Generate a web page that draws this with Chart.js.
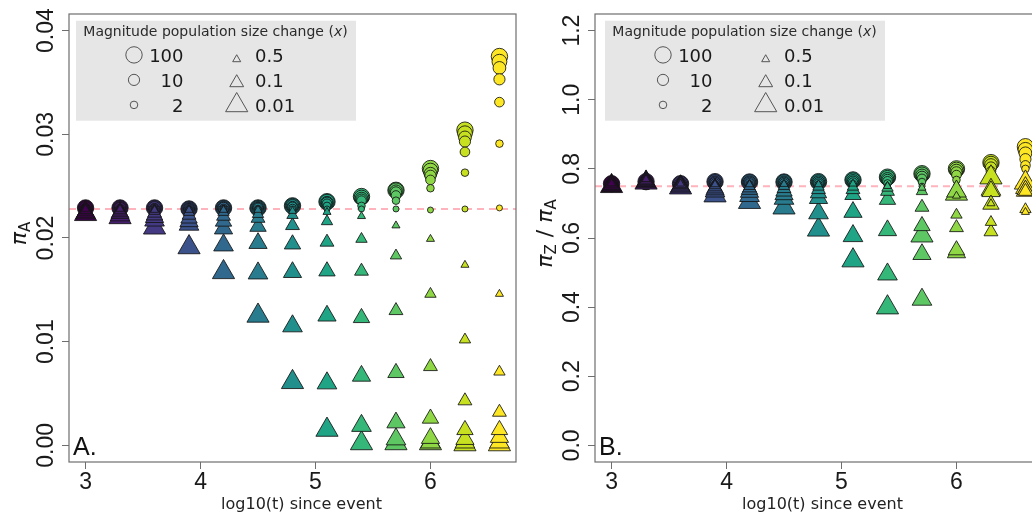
<!DOCTYPE html>
<html>
<head>
<meta charset="utf-8">
<script src="https://cdn.jsdelivr.net/npm/chart.js@4.4.1/dist/chart.umd.min.js"></script>
<style>
  html, body { margin: 0; padding: 0; background: #fff; overflow: hidden; width: 1032px; height: 512px; }
  canvas { position: absolute; top: 0; }
  #panelA { left: 0; }
  #panelB { left: 526px; }
</style>
</head>
<body>
<canvas id="panelA" width="520" height="512"></canvas>
<canvas id="panelB" width="520" height="512"></canvas>
<script>
/* ---- Data ---- */
const LOG_T = [3.0, 3.3, 3.6, 3.9, 4.2, 4.5, 4.8, 5.1, 5.4, 5.7, 6.0, 6.3, 6.6];
const EXPANSIONS = [100, 50, 20, 10, 5, 2, 1];
const CONTRACTIONS = [0.5, 0.2, 0.1, 0.05, 0.03, 0.02, 0.01];

// Panel A: pi_A
const PI_A_X100 = [0.0229, 0.0229, 0.0229, 0.0228, 0.0229, 0.0229, 0.0231, 0.0235, 0.0240, 0.0246, 0.0267, 0.0304, 0.0375];
const PI_A_X50  = [0.0229, 0.0229, 0.0229, 0.0228, 0.0229, 0.0229, 0.0231, 0.0235, 0.0239, 0.0246, 0.0265, 0.0301, 0.0370];
const PI_A_X20  = [0.0229, 0.0229, 0.0229, 0.0228, 0.0229, 0.0229, 0.0231, 0.0234, 0.0238, 0.0245, 0.0262, 0.0297, 0.0364];
const PI_A_X10  = [0.0228, 0.0229, 0.0228, 0.0228, 0.0229, 0.0229, 0.0230, 0.0234, 0.0237, 0.0244, 0.0260, 0.0293, 0.0353];
const PI_A_X5   = [0.0228, 0.0228, 0.0228, 0.0228, 0.0228, 0.0229, 0.0230, 0.0233, 0.0236, 0.0241, 0.0256, 0.0283, 0.0331];
const PI_A_X2   = [0.0228, 0.0228, 0.0228, 0.0228, 0.0228, 0.0228, 0.0229, 0.0231, 0.0231, 0.0236, 0.0248, 0.0263, 0.0291];
const PI_A_X1   = [0.0228, 0.0228, 0.0228, 0.0228, 0.0228, 0.0228, 0.0228, 0.0228, 0.0228, 0.0228, 0.0227, 0.0228, 0.0229];

const PI_A_X05   = [0.0228, 0.0228, 0.0227, 0.0227, 0.0227, 0.0227, 0.0226, 0.0225, 0.0221, 0.0212, 0.0199, 0.0174, 0.0146];
const PI_A_X02   = [0.0227, 0.0227, 0.0226, 0.0225, 0.0225, 0.0223, 0.0222, 0.0216, 0.0199, 0.0183, 0.0146, 0.0102, 0.0071];
const PI_A_X01   = [0.0227, 0.0226, 0.0224, 0.0222, 0.0221, 0.0219, 0.0212, 0.0196, 0.0168, 0.0130, 0.0076, 0.0043, 0.0032];
const PI_A_X005  = [0.0226, 0.0225, 0.0222, 0.0219, 0.0216, 0.0211, 0.0194, 0.0168, 0.0123, 0.0070, 0.0026, 0.0015, 0.0015];
const PI_A_X003  = [0.0225, 0.0224, 0.0220, 0.0216, 0.0209, 0.0195, 0.0167, 0.0125, 0.0067, 0.0022, 0.0007, 0.0006, 0.0008];
const PI_A_X002  = [0.0224, 0.0222, 0.0217, 0.0213, 0.0193, 0.0166, 0.0115, 0.0060, 0.0019, 0.0006, 0.0003, 0.0003, 0.0003];
const PI_A_X001  = [0.0223, 0.0220, 0.0210, 0.0191, 0.0167, 0.0125, 0.0061, 0.0015, 0.0002, 0.0002, 0.0002, 0.0001, 0.0001];

// Panel B: pi_Z / pi_A
const RATIO_X100 = [0.757, 0.763, 0.757, 0.763, 0.762, 0.762, 0.763, 0.768, 0.776, 0.786, 0.800, 0.818, 0.864];
const RATIO_X50  = [0.757, 0.762, 0.757, 0.762, 0.762, 0.762, 0.762, 0.767, 0.774, 0.784, 0.798, 0.815, 0.855];
const RATIO_X20  = [0.756, 0.762, 0.756, 0.761, 0.761, 0.761, 0.761, 0.765, 0.771, 0.781, 0.795, 0.811, 0.845];
const RATIO_X10  = [0.756, 0.761, 0.755, 0.760, 0.760, 0.760, 0.759, 0.763, 0.768, 0.777, 0.790, 0.804, 0.828];
const RATIO_X5   = [0.755, 0.760, 0.754, 0.758, 0.758, 0.758, 0.757, 0.760, 0.764, 0.771, 0.782, 0.793, 0.810];
const RATIO_X2   = [0.753, 0.757, 0.752, 0.755, 0.755, 0.755, 0.754, 0.756, 0.758, 0.762, 0.768, 0.776, 0.800];
const RATIO_X1   = [0.750, 0.752, 0.750, 0.750, 0.751, 0.750, 0.750, 0.750, 0.750, 0.750, 0.751, 0.751, 0.752];

const RATIO_X05  = [0.758, 0.770, 0.757, 0.755, 0.755, 0.756, 0.755, 0.757, 0.750, 0.745, 0.722, 0.700, 0.675];
const RATIO_X02  = [0.757, 0.768, 0.756, 0.752, 0.750, 0.750, 0.748, 0.748, 0.745, 0.735, 0.667, 0.646, 0.683];
const RATIO_X01  = [0.756, 0.766, 0.755, 0.748, 0.745, 0.743, 0.740, 0.740, 0.735, 0.689, 0.630, 0.618, 0.735];
const RATIO_X005 = [0.754, 0.765, 0.753, 0.744, 0.740, 0.735, 0.730, 0.725, 0.711, 0.635, 0.565, 0.697, 0.740];
const RATIO_X003 = [0.752, 0.764, 0.751, 0.740, 0.733, 0.726, 0.715, 0.675, 0.622, 0.553, 0.558, 0.735, 0.736];
const RATIO_X002 = [0.751, 0.762, 0.749, 0.735, 0.722, 0.714, 0.672, 0.606, 0.495, 0.422, 0.735, 0.740, 0.745];
const RATIO_X001 = [0.750, 0.760, 0.746, 0.723, 0.704, 0.688, 0.624, 0.535, 0.399, 0.607, 0.728, 0.775, 0.760];

const BASELINE_PI_A = 0.0228;
const BASELINE_RATIO = 0.75;

const X_TICKS = [3, 4, 5, 6];
const Y_TICKS_A = [0, 0.01, 0.02, 0.03, 0.04];
const Y_TICKS_B = [0, 0.2, 0.4, 0.6, 0.8, 1.0, 1.2];
const X_RANGE = [2.856, 6.744];
const Y_RANGE_A = [-0.0016, 0.0416];
const Y_RANGE_B = [-0.048, 1.248];

const LEGEND_UP = [100, 10, 2];
const LEGEND_DOWN = [0.5, 0.1, 0.01];
const LEGEND_TITLE = 'Magnitude population size change (';
const X_TITLE = 'log10(t) since event';

/* ---- Styles ---- */
const VIRIDIS = ['#440154', '#481F70', '#443A83', '#3B528B', '#31688E', '#287C8E', '#21908C',
  '#20A486', '#35B779', '#5DC863', '#8FD744', '#C7E020', '#FDE725'];
const EDGE = 'rgba(20,20,20,0.85)';
const FRAME = '#6e6e6e';
const INK = '#1a1a1a';

function circleRadius(m) { return 3 + 2.6 * Math.log10(m); }
function triangleRadius(m) { return 3.2 + 4.8 * Math.abs(Math.log10(m)); }

function seriesPoints(values) {
  return LOG_T.map((t, i) => ({ x: t, y: values[i] }));
}

function buildDatasets(circles, triangles, baseline) {
  const list = [];
  list.push({
    type: 'line',
    data: [{ x: X_RANGE[0], y: baseline }, { x: X_RANGE[1], y: baseline }],
    showLine: true,
    borderColor: '#ffb3bd',
    borderWidth: 2,
    borderDash: [7, 5],
    pointRadius: 0,
    fill: false,
  });
  // big circles first, small on top
  circles.forEach((vals, k) => list.push({
    data: seriesPoints(vals),
    pointStyle: 'circle',
    pointRadius: circleRadius(EXPANSIONS[k]),
    pointBackgroundColor: VIRIDIS,
    pointBorderColor: EDGE,
    pointBorderWidth: 1,
  }));
  // then triangles, biggest first
  for (let k = triangles.length - 1; k >= 0; k--) {
    list.push({
      data: seriesPoints(triangles[k]),
      pointStyle: 'triangle',
      pointRadius: triangleRadius(CONTRACTIONS[k]),
      pointBackgroundColor: VIRIDIS,
      pointBorderColor: EDGE,
      pointBorderWidth: 1,
    });
  }
  // chart.js draws highest order first
  return list.map((d, i) => ({ ...d, order: list.length - i }));
}

/* ---- Decorations: frame, rotated y labels, titles, legend ---- */
function drawPieces(ctx, pieces, cx, cy) {
  let total = 0;
  pieces.forEach((p) => { ctx.font = p.font; p.w = ctx.measureText(p.t).width; total += p.w; });
  ctx.save();
  ctx.translate(cx, cy);
  ctx.rotate(-Math.PI / 2);
  ctx.textAlign = 'left';
  ctx.textBaseline = 'alphabetic';
  let x = -total / 2;
  pieces.forEach((p) => { ctx.font = p.font; ctx.fillText(p.t, x, p.dy || 0); x += p.w; });
  ctx.restore();
}

function drawLegend(ctx, left, top) {
  ctx.save();
  ctx.fillStyle = '#e6e6e6';
  ctx.fillRect(left, top, 280, 100);

  ctx.fillStyle = '#2b2b2b';
  ctx.textAlign = 'left';
  ctx.textBaseline = 'alphabetic';
  let tx = left + 7.3;
  const ty = top + 14.8;
  ctx.font = '14px "DejaVu Sans"';
  ctx.fillText(LEGEND_TITLE, tx, ty);
  tx += ctx.measureText(LEGEND_TITLE).width;
  ctx.font = 'italic 14px "DejaVu Sans"';
  ctx.fillText('x', tx, ty);
  tx += ctx.measureText('x').width;
  ctx.font = '14px "DejaVu Sans"';
  ctx.fillText(')', tx, ty);

  const rows = [41, 66, 91];
  ctx.font = '18px "DejaVu Sans"';
  ctx.strokeStyle = '#555';
  ctx.lineWidth = 1;
  ctx.fillStyle = INK;
  LEGEND_UP.forEach((m, i) => {
    const b = top + rows[i];
    ctx.beginPath();
    ctx.arc(left + 58, b - 6.8, circleRadius(m), 0, Math.PI * 2);
    ctx.stroke();
    ctx.textAlign = 'right';
    ctx.fillText(String(m), left + 107.5, b);
  });
  LEGEND_DOWN.forEach((m, i) => {
    const b = top + rows[i];
    const r = triangleRadius(m);
    const cx = left + 160.7;
    const cy = b - r / 2;
    ctx.beginPath();
    ctx.moveTo(cx, cy - r);
    ctx.lineTo(cx + r * Math.sin(Math.PI / 3), cy + r / 2);
    ctx.lineTo(cx - r * Math.sin(Math.PI / 3), cy + r / 2);
    ctx.closePath();
    ctx.stroke();
    ctx.textAlign = 'left';
    ctx.fillText(String(m), left + 179, b);
  });
  ctx.restore();
}

const panelDecor = {
  id: 'panelDecor',
  afterDraw(chart, args, opts) {
    const { ctx, chartArea: a, scales: { y } } = chart;
    ctx.save();
    ctx.strokeStyle = FRAME;
    ctx.lineWidth = 1.2;
    ctx.strokeRect(a.left, a.top, a.right - a.left, a.bottom - a.top);

    // y tick labels, rotated like base R
    ctx.fillStyle = INK;
    ctx.font = '23px "Liberation Sans"';
    ctx.textAlign = 'center';
    ctx.textBaseline = 'alphabetic';
    y.ticks.forEach((t) => {
      ctx.save();
      ctx.translate(a.left - 16.5, y.getPixelForValue(t.value));
      ctx.rotate(-Math.PI / 2);
      ctx.fillText(t.value.toFixed(opts.decimals), 0, 0);
      ctx.restore();
    });

    // y title
    drawPieces(ctx, opts.yTitle, a.left - 43, 233.5);

    // x title
    ctx.font = '16px "DejaVu Sans"';
    ctx.fillStyle = '#222';
    ctx.textAlign = 'center';
    ctx.fillText(X_TITLE, (a.left + a.right) / 2 + opts.titleDx, 509);

    // panel letter
    ctx.font = '25px "Liberation Sans"';
    ctx.fillStyle = '#111';
    ctx.textAlign = 'left';
    ctx.fillText(opts.letter, a.left + 4, a.bottom - 7);
    ctx.restore();

    drawLegend(ctx, a.left + opts.legendDx, 20.7);
  },
};

function makePanel(id, circles, triangles, baseline, yRange, yTicks, decor) {
  const ctx = document.getElementById(id).getContext('2d');
  return new Chart(ctx, {
    type: 'scatter',
    data: { datasets: buildDatasets(circles, triangles, baseline) },
    options: {
      responsive: false,
      animation: false,
      events: [],
      layout: { autoPadding: false, padding: { top: 14, right: 4, left: 0, bottom: 0 } },
      plugins: { legend: { display: false }, tooltip: { enabled: false }, panelDecor: decor },
      scales: {
        x: {
          type: 'linear',
          min: X_RANGE[0],
          max: X_RANGE[1],
          afterBuildTicks: (s) => { s.ticks = X_TICKS.map((v) => ({ value: v })); },
          afterFit: (s) => { s.height = 50; },
          grid: { drawOnChartArea: false, drawTicks: true, tickLength: 7, color: FRAME, lineWidth: 1 },
          border: { display: false },
          ticks: {
            font: { family: 'Liberation Sans', size: 23 },
            color: INK,
            padding: 0,
            maxRotation: 0,
            autoSkip: false,
            callback: (v) => String(v),
          },
        },
        y: {
          type: 'linear',
          min: yRange[0],
          max: yRange[1],
          afterBuildTicks: (s) => { s.ticks = yTicks.map((v) => ({ value: v })); },
          afterFit: (s) => { s.width = 69; },
          grid: { drawOnChartArea: false, drawTicks: true, tickLength: 7, color: FRAME, lineWidth: 1 },
          border: { display: false },
          ticks: { display: false },
        },
      },
    },
    plugins: [panelDecor],
  });
}

const PI_FONT = 'italic 22px "DejaVu Sans"';
const SUB_FONT = '15px "DejaVu Sans"';

makePanel('panelA',
  [PI_A_X100, PI_A_X50, PI_A_X20, PI_A_X10, PI_A_X5, PI_A_X2, PI_A_X1],
  [PI_A_X05, PI_A_X02, PI_A_X01, PI_A_X005, PI_A_X003, PI_A_X002, PI_A_X001],
  BASELINE_PI_A, Y_RANGE_A, Y_TICKS_A,
  {
    decimals: 2, letter: 'A.', legendDx: 7, titleDx: 9,
    yTitle: [{ t: 'π', font: PI_FONT }, { t: 'A', font: SUB_FONT, dy: 4 }],
  });

makePanel('panelB',
  [RATIO_X100, RATIO_X50, RATIO_X20, RATIO_X10, RATIO_X5, RATIO_X2, RATIO_X1],
  [RATIO_X05, RATIO_X02, RATIO_X01, RATIO_X005, RATIO_X003, RATIO_X002, RATIO_X001],
  BASELINE_RATIO, Y_RANGE_B, Y_TICKS_B,
  {
    decimals: 1, letter: 'B.', legendDx: 10, titleDx: 4,
    yTitle: [
      { t: 'π', font: PI_FONT }, { t: 'Z', font: SUB_FONT, dy: 4 },
      { t: ' / ', font: '22px "DejaVu Sans"' },
      { t: 'π', font: PI_FONT }, { t: 'A', font: SUB_FONT, dy: 4 },
    ],
  });
</script>
</body>
</html>
